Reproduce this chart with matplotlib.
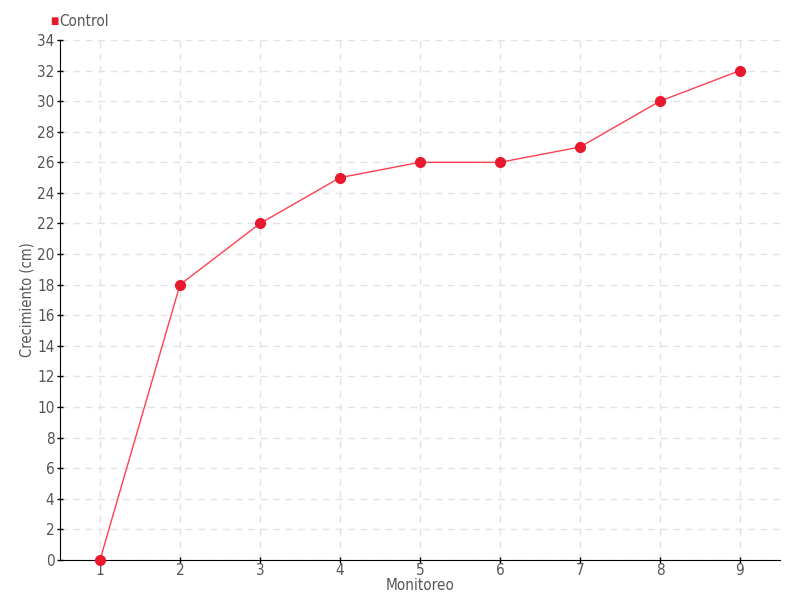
import matplotlib.pyplot as plt

# datos
monitoreo = [1, 2, 3, 4, 5, 6, 7, 8, 9]
control = [0, 18, 22, 25, 26, 26, 27, 30, 32]

plt.rcParams["font.family"] = ["DejaVu Sans"]
plt.rcParams["font.stretch"] = "condensed"

txt = "#555555"
fig = plt.figure(figsize=(8, 6), dpi=100)
ax = fig.add_axes([0.075, 0.0667, 0.9, 0.8667])

ax.plot(monitoreo, control, color="#ff4050", linewidth=1, zorder=3)
ax.plot(monitoreo, control, "o", color="#e8192c", markersize=7, zorder=4, clip_on=False)

ax.set_xlim(0.5, 9.5)
ax.set_ylim(0, 34)
ax.set_xticks(monitoreo)
ax.set_yticks(range(0, 35, 2))
ax.grid(True, color="#e3e3e3", linestyle=(0, (5, 4)), linewidth=1)
ax.set_axisbelow(True)
for s in ["top", "right"]:
    ax.spines[s].set_visible(False)
ax.tick_params(labelsize=11, colors=txt, length=4, width=1, direction="inout", pad=2)
ax.tick_params(axis="x", pad=0)
ax.tick_params(axis="both", color="black")

ax.set_xlabel("Monitoreo", fontsize=11, color=txt, labelpad=0)
ax.set_ylabel("Crecimiento (cm)", fontsize=10.5, color=txt, labelpad=2)

fig.text(0.0625, 0.965, "■", color="#e8192c", fontsize=7, ha="left", va="center")
fig.text(0.0735, 0.964, "Control", color=txt, fontsize=11, ha="left", va="center")

fig.savefig("out.png", dpi=100)
